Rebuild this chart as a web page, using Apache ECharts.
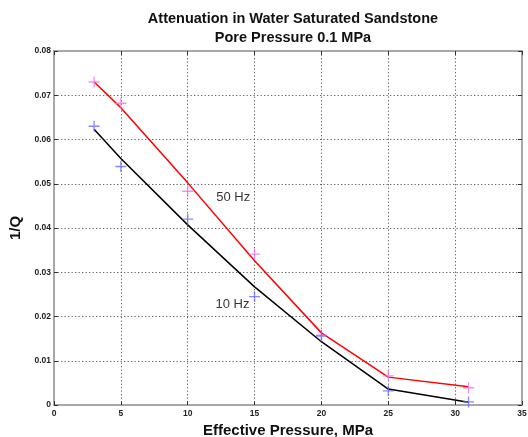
<!DOCTYPE html>
<html><head><meta charset="utf-8">
<script src="https://cdn.jsdelivr.net/npm/echarts@6/dist/echarts.min.js"></script>
<style>html,body{margin:0;padding:0;background:#fff}#c{width:528px;height:437px}</style>
</head><body><div id="c"></div>
<script>
const pressures = [3, 5, 10, 15, 20, 25, 31];
const fit50 = [0.073, 0.0672, 0.0502, 0.0326, 0.0163, 0.0063, 0.0041];
const fit10 = [0.0623, 0.0557, 0.0407, 0.0267, 0.0143, 0.0036, 0.0006];
const meas50 = [0.073, 0.0682, 0.0483, 0.0341, 0.0158, 0.0066, 0.0039];
const meas10 = [0.063, 0.0539, 0.042, 0.0245, 0.0156, 0.0032, 0.0007];
const labelText = ['50 Hz', '10 Hz'];
const labelX = [13.4, 13.35];
const labelY = [0.0468, 0.0228];

const plus = 'path://M4.4,0h1.2v10h-1.2z M0,4.4h10v1.2h-10z';
const pair = (xs, ys) => xs.map((x, i) => [x, ys[i]]);
const chart = echarts.init(document.getElementById('c'), null, {renderer: 'canvas'});
const axisLine = {show: true, onZero: false, lineStyle: {color: '#a8a8a8', width: 2}};
const tick = {show: true, inside: true, length: 4, lineStyle: {color: '#333'}};
const tickLbl = {fontFamily: 'Liberation Sans', fontSize: 8.5, fontWeight: 'bold', color: '#222'};
const split = {show: true, lineStyle: {color: '#666', type: [1.3, 2.2], width: 1}};
const nameStyle = {fontFamily: 'Liberation Sans', fontSize: 15, fontWeight: 'bold', color: '#111'};
chart.setOption({
  animation: false,
  title: {
    text: 'Attenuation in Water Saturated Sandstone\nPore Pressure 0.1 MPa',
    left: 288, top: 5, textAlign: 'center',
    textStyle: {fontFamily: 'Liberation Sans', fontSize: 14.5, fontWeight: 'bold', color: '#111', lineHeight: 18.5}
  },
  grid: {left: 54, right: 6, top: 51, bottom: 32, show: false, containLabel: false, outerBoundsMode: 'none'},
  xAxis: [{
    type: 'value', min: 0, max: 35, interval: 5,
    name: 'Effective Pressure, MPa', nameLocation: 'middle', nameGap: 15, nameTextStyle: nameStyle,
    axisLine: axisLine, axisTick: tick,
    axisLabel: Object.assign({margin: 4}, tickLbl), splitLine: split
  }, {
    type: 'value', min: 0, max: 35, interval: 5, position: 'top',
    axisLine: axisLine, axisTick: tick, axisLabel: {show: false}, splitLine: {show: false}
  }],
  yAxis: [{
    type: 'value', min: 0, max: 0.08, interval: 0.01,
    name: '1/Q', nameLocation: 'middle', nameGap: 29, nameRotate: 90, nameTextStyle: nameStyle,
    axisLine: axisLine, axisTick: tick,
    axisLabel: Object.assign({margin: 3, formatter: v => v === 0 ? '0' : v.toFixed(2)}, tickLbl),
    splitLine: split
  }, {
    type: 'value', min: 0, max: 0.08, interval: 0.01, position: 'right',
    axisLine: axisLine, axisTick: tick, axisLabel: {show: false}, splitLine: {show: false}
  }],
  series: [
    {type: 'line', data: pair(pressures, fit50), showSymbol: false, lineStyle: {color: '#ff0000', width: 1.5}, z: 3},
    {type: 'line', data: pair(pressures, fit10), showSymbol: false, lineStyle: {color: '#000000', width: 1.5}, z: 3},
    {type: 'scatter', data: pair(pressures, meas50), symbol: plus, symbolSize: 11, itemStyle: {color: '#f070f0'}, z: 4},
    {type: 'scatter', data: pair(pressures, meas10), symbol: plus, symbolSize: 11, itemStyle: {color: '#6a6aff'}, z: 4},
    {type: 'scatter', data: labelX.map((x, i) => ({value: [x, labelY[i]], name: labelText[i]})),
     symbol: 'circle', symbolSize: 2, itemStyle: {color: 'rgba(0,0,0,0)'}, z: 5, silent: true,
     label: {show: true, position: 'inside', formatter: p => p.name,
       fontFamily: 'Liberation Sans', fontSize: 13, color: '#000'}}
  ]
});
</script></body></html>
